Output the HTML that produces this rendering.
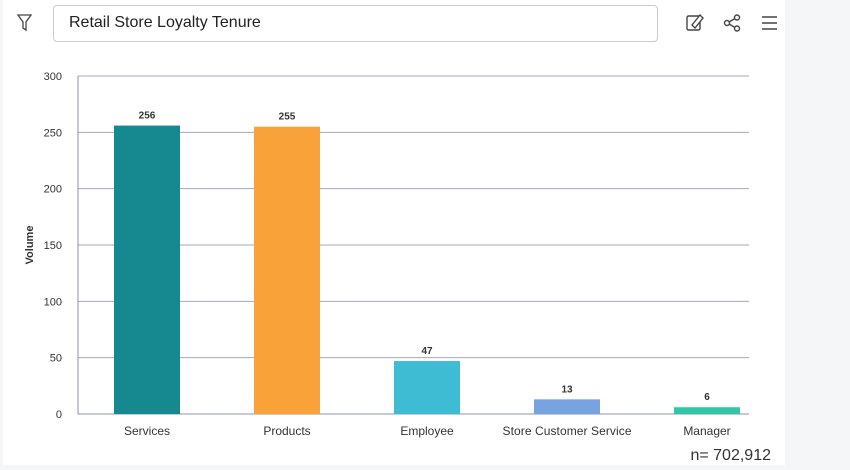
<!DOCTYPE html>
<html><head><meta charset="utf-8"><style>
body{margin:0;width:850px;height:470px;background:#f5f6f8;font-family:"Liberation Sans",sans-serif;overflow:hidden;position:relative}
.card{position:absolute;left:3px;top:0;width:782px;height:465px;background:#fff}
.title{position:absolute;left:53px;top:5px;width:605px;height:37px;border:1px solid #c9cbd0;border-radius:4px;box-sizing:border-box;font-size:16px;color:#222;line-height:34px;padding-left:15px}
svg{position:absolute;left:0;top:0}
</style></head><body>
<div class="card"></div>
<div class="title">Retail Store Loyalty Tenure</div>
<svg width="850" height="470" id="chart">
<g><path d="M18 15 H31 L26 22 V30 L23 28 V22 Z" fill="none" stroke="#444" stroke-width="1.3"/></g>
<g><rect x="687" y="16" width="13" height="14" rx="1.5" fill="none" stroke="#444" stroke-width="1.4"/><path d="M692 25 L700 15 L703 18 L695 28 Z" fill="#fff" stroke="#444" stroke-width="1.4"/></g>
<g fill="none" stroke="#444" stroke-width="1.4"><circle cx="727" cy="23" r="2.5"/><circle cx="737" cy="17.5" r="2.5"/><circle cx="737" cy="28.5" r="2.5"/><path d="M729 22 L735 18.5 M729 24 L735 27.5"/></g>
<g stroke="#444" stroke-width="1.6"><path d="M762 17 H777 M762 23 H777 M762 29 H777"/></g>
<text x="33" y="245" transform="rotate(-90 33 245)" text-anchor="middle" font-size="11" font-weight="bold" fill="#333">Volume</text>
<g id="grid"></g><g id="bars"></g>
<text x="771" y="460" text-anchor="end" font-size="16" fill="#333">n= 702,912</text>
</svg>
<script>
const categories=["Services","Products","Employee","Store Customer Service","Manager"];
const values=[256,255,47,13,6];
const colors=["#168890","#f9a23a","#3dbcd3","#77a3e0","#30c6a6"];
const ticks=[0,50,100,150,200,250,300];
const x0=78,x1=749,yTop=76,yBot=414,yMax=300;
const y=v=>yBot-(v/yMax)*(yBot-yTop);
const band=140,bandStart=77,bw=66;
const ns="http://www.w3.org/2000/svg";
const grid=document.getElementById('grid'),bars=document.getElementById('bars');
function mk(tag,attrs,parent,txt){const e=document.createElementNS(ns,tag);for(const k in attrs)e.setAttribute(k,attrs[k]);if(txt!==undefined)e.textContent=txt;parent.appendChild(e);return e;}
ticks.forEach(t=>{
 const l=mk('line',{x1:x0,x2:x1,y1:y(t),y2:y(t),stroke:t===0?'#8e90b8':'#a5a7c4','stroke-width':1},grid);
 
 
 const tx=mk('text',{x:62,y:y(t)+4,'text-anchor':'end','font-size':11,fill:'#333'},grid,t);
 
 
});
const ax=mk('line',{x1:x0,x2:x0,y1:yTop,y2:yBot,stroke:'#8e90b8'},grid);


categories.forEach((c,i)=>{
 const cx=bandStart+band*i+band/2;
 const r=mk('rect',{x:cx-bw/2,y:y(values[i]),width:bw,height:yBot-y(values[i]),fill:colors[i]},bars);
 
 
 const v=mk('text',{x:cx,y:y(values[i])-7,'text-anchor':'middle','font-size':10,'font-weight':'bold',fill:'#333'},bars,values[i]);
 
 
 const l=mk('text',{x:cx,y:435,'text-anchor':'middle','font-size':12,fill:'#333',textLength:c.length>10?129:null},bars,c);
 if(c.length<=10)l.removeAttribute('textLength');
 
 
});
</script>
</body></html>
